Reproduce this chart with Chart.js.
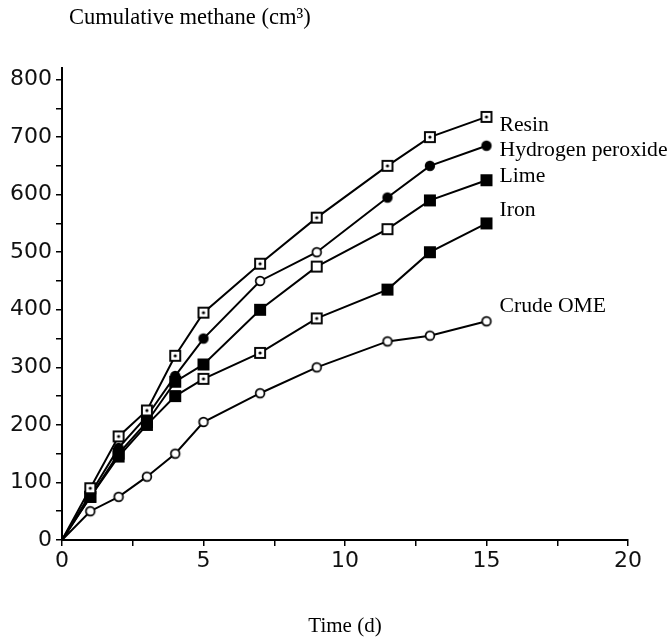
<!DOCTYPE html>
<html>
<head>
<meta charset="utf-8">
<script src="https://cdn.jsdelivr.net/npm/chart.js@4/dist/chart.umd.min.js"></script>
<style>
  html, body { margin: 0; padding: 0; background: #fff; }
  #wrap { width: 671px; height: 637px; }
</style>
</head>
<body>
<div id="wrap"><canvas id="c" width="671" height="637"></canvas></div>
<script>
// ---- data ----
const days = [0, 1, 2, 3, 4, 5, 7, 9, 11.5, 13, 15];
const seriesNames = ["Resin", "Hydrogen peroxide", "Lime", "Iron", "Crude OME"];
const resin    = [0, 90, 180, 225, 320, 395, 480, 560, 650, 700, 735];
const peroxide = [0, 80, 160, 215, 285, 350, 450, 500, 595, 650, 685];
const lime     = [0, 75, 150, 205, 275, 305, 400, 475, 540, 590, 625];
const iron     = [0, 75, 145, 200, 250, 280, 325, 385, 435, 500, 550];
const crudeOME = [0, 50, 75, 110, 150, 205, 255, 300, 345, 355, 380];
const xTickLabels = [0, 5, 10, 15, 20];
const yTickLabels = [0, 100, 200, 300, 400, 500, 600, 700, 800];
const yTitle = "Cumulative methane (cm³)";
const xTitle = "Time (d)";

// ---- marker styles (appearance only) ----
function makeMarker(type) {
  const s = 14;
  const c = document.createElement('canvas');
  c.width = s; c.height = s;
  const g = c.getContext('2d');
  g.strokeStyle = '#000'; g.fillStyle = '#000';
  const m = s / 2;
  if (type === 'sqdot' || type === 'sq') {
    g.fillStyle = '#fff';
    g.fillRect(m - 5, m - 5, 10, 10);
    g.lineWidth = 1.9;
    g.strokeRect(m - 5, m - 5, 10, 10);
    if (type === 'sqdot') {
      g.fillStyle = '#000';
      g.beginPath(); g.arc(m, m, 1.6, 0, Math.PI * 2); g.fill();
    }
  } else if (type === 'sqfill') {
    g.fillRect(m - 6, m - 6, 12, 12);
  } else if (type === 'circ') {
    g.fillStyle = '#fff';
    g.beginPath(); g.arc(m, m, 4.4, 0, Math.PI * 2); g.fill();
    g.lineWidth = 1.7; g.stroke();
  } else if (type === 'circfill') {
    g.beginPath(); g.arc(m, m, 5.2, 0, Math.PI * 2); g.fill();
  }
  return c;
}
const M = {
  sqdot: makeMarker('sqdot'), sq: makeMarker('sq'), sqfill: makeMarker('sqfill'),
  circ: makeMarker('circ'), circfill: makeMarker('circfill')
};
const markerPlan = [
  ['sqdot','sqdot','sqdot','sqdot','sqdot','sqdot','sqdot','sqdot','sqdot','sqdot','sqdot'],
  ['circfill','circfill','circfill','circfill','circfill','circfill','circ','circ','circfill','circfill','circfill'],
  ['sqfill','sqfill','sqfill','sqfill','sqfill','sqfill','sqfill','sq','sq','sqfill','sqfill'],
  ['sqfill','sqfill','sqfill','sqfill','sqfill','sqdot','sqdot','sqdot','sqfill','sqfill','sqfill'],
  ['circ','circ','circ','circ','circ','circ','circ','circ','circ','circ','circ']
];
// label offsets relative to each series' last point (px)
const labelOffsets = [8, 5, -4, -13, -15];

const allSeries = [resin, peroxide, lime, iron, crudeOME];
const datasets = allSeries.map((vals, si) => ({
  label: seriesNames[si],
  data: days.map((d, i) => ({ x: d, y: vals[i] })),
  borderColor: '#000',
  borderWidth: 2,
  tension: 0,
  fill: false,
  pointStyle: markerPlan[si].map(k => M[k]),
  pointRadius: days.map((d, i) => i === 0 ? 0 : 5),
  pointHoverRadius: 5
}));

const tickFont = { family: 'DejaVu Sans', size: 22, weight: 'normal' };
const serif = 'Liberation Serif, "Times New Roman", serif';

const textPlugin = {
  id: 'texts',
  afterDatasetsDraw(chart) {
    const { ctx, scales: { x, y } } = chart;
    ctx.save();
    ctx.fillStyle = '#000';
    ctx.textAlign = 'left';
    ctx.textBaseline = 'middle';
    ctx.font = '21.7px ' + serif;
    allSeries.forEach((vals, si) => {
      const last = vals.length - 1;
      const px = x.getPixelForValue(days[last]) + 13;
      const py = y.getPixelForValue(vals[last]) + labelOffsets[si];
      ctx.fillText(seriesNames[si], px, py);
    });
    ctx.textBaseline = 'alphabetic';
    ctx.font = '22.5px ' + serif;
    ctx.fillText(yTitle, 69, 24);
    ctx.textAlign = 'center';
    ctx.font = '21px ' + serif;
    ctx.fillText(xTitle, (x.left + x.right) / 2, 632);
    ctx.restore();
  }
};

new Chart(document.getElementById('c'), {
  type: 'line',
  data: { datasets },
  options: {
    responsive: false,
    devicePixelRatio: 1,
    animation: false,
    clip: false,
    layout: { padding: { top: 68, right: 43, left: 0, bottom: 0 } },
    plugins: { legend: { display: false }, tooltip: { enabled: false }, title: { display: false } },
    scales: {
      x: {
        type: 'linear', min: 0, max: 20,
        ticks: {
          stepSize: 2.5, autoSkip: false, maxRotation: 0, padding: 2,
          color: '#111', font: tickFont,
          callback: v => xTickLabels.includes(v) ? String(v) : ''
        },
        grid: { drawOnChartArea: false, tickLength: 6, tickColor: '#000', lineWidth: 1.5 },
        border: { color: '#000', width: 2 },
        afterFit: s => { s.height = 97; }
      },
      y: {
        type: 'linear', min: 0, max: 820,
        ticks: {
          stepSize: 50, autoSkip: false, includeBounds: false, padding: 4,
          color: '#111', font: tickFont,
          callback: v => yTickLabels.includes(v) ? String(v) : ''
        },
        grid: { drawOnChartArea: false, tickLength: 6, tickColor: '#000', lineWidth: 1.5 },
        border: { color: '#000', width: 2 },
        afterFit: s => { s.width = 62; }
      }
    }
  },
  plugins: [textPlugin]
});
</script>
</body>
</html>
